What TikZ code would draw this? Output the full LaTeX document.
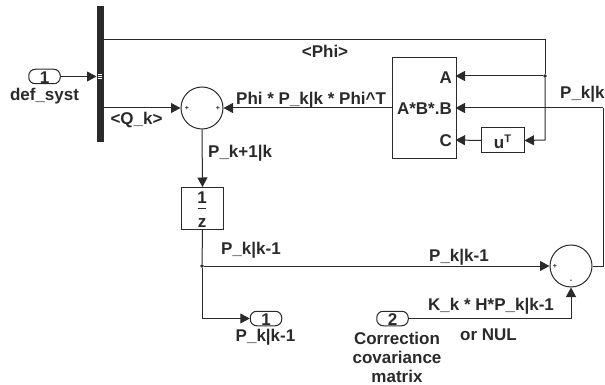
\documentclass[tikz,border=0pt]{standalone}
\usepackage{fontspec}
\setmainfont{Liberation Sans}
\usetikzlibrary{arrows.meta}
\definecolor{ink}{HTML}{2A2A2A}
\tikzset{
  x=1pt,y=-1pt,
  every node/.style={text=ink,font=\fontsize{17}{19}\selectfont\bfseries,inner sep=0pt},
  wire/.style={draw=ink,line width=1pt},
  flow/.style={wire,-{Triangle[length=9.5pt,width=10pt]}},
  blockbox/.style={draw=ink,line width=1pt,fill=white,minimum width=0pt,anchor=north west,rectangle},
  sumnode/.style={draw=ink,line width=1pt,circle,minimum size=42pt,fill=white},
  port/.style={draw=ink,line width=1pt,rounded corners=6.5pt,minimum width=31.5pt,minimum height=14.5pt,fill=white},
  tick/.style={font=\fontsize{7}{7}\selectfont\bfseries},
  dot/.style={circle,fill=ink,minimum size=3.6pt,draw=none},
}
\begin{document}
\begin{tikzpicture}
\useasboundingbox (0,0) rectangle (605,385);
% bus
\node[fill=ink,minimum width=7pt,minimum height=136pt,anchor=north west] (bus) at (96.5,6) {};
\coordinate (busphi) at (103.5,40);
\coordinate (busq) at (103.5,108);
\coordinate (busin) at (96.5,76.5);
\foreach \yy in {74.5,76.5,78.5} \draw[white,line width=.7pt] (98,\yy) -- (102,\yy);
% blocks
\node[port] (in1) at (44.5,76.5) {};
\node at (44.5,78) {1};
\node[sumnode] (sum1) at (202,108) {};
\node[blockbox,minimum width=63.5pt,minimum height=101pt] (prod) at (392,57.5) {};
\node[blockbox,minimum width=42.5pt,minimum height=25pt] (ut) at (481,127.5) {};
\node at (502.5,142) {u\raisebox{6pt}{\fontsize{11}{11}\selectfont T}};
\node[blockbox,minimum width=42pt,minimum height=42pt] (delay) at (181,187) {};
\node[sumnode] (sum2) at (571,266) {};
\node[port] (out1) at (266,318.5) {};
\node at (266,320) {1};
\node[port] (in2) at (392.5,318.5) {};
\node at (392.5,320) {2};
% coordinates for routing
\coordinate (prodA) at (455.5,76);
\coordinate (prodB) at (455.5,108);
\coordinate (prodC) at (455.5,140);
\coordinate (phic) at (545,40);
\node[dot] (j1) at (545,76) {};
\node[dot] (j2) at (202,266) {};
\coordinate (fb) at (603,266);
\coordinate (fbt) at (603,108);
% wires
\draw[flow] (in1.east) -- (busin);
\draw[wire] (busphi) -- (phic) -- (j1);
\draw[flow] (j1) -- (545,140) -- (ut.east);
\draw[flow] (j1) -- (prodA);
\draw[flow] (busq) -- (sum1.west);
\draw[flow] (prod.west |- sum1.east) -- (sum1.east);
\draw[flow] (sum1.south) -- (delay.north);
\draw[flow] (ut.west) -- (prodC);
\draw[wire] (delay.south) -- (j2);
\draw[flow] (j2) -- (sum2.west);
\draw[flow] (j2) |- (out1.west);
\draw[flow] (in2.east) -| (sum2.south);
\draw[wire] (sum2.east) -- (fb) -- (fbt);
\draw[flow] (fbt) -- (prodB);
% block texts
\node[anchor=east] at (452,78) {A};
\node[anchor=east] at (452,109) {A*B*.B};
\node[anchor=east] at (452,141) {C};
\node at (202,198) {1};
\draw[ink,line width=.9pt] (198,208) -- (206,208);
\node at (202,223) {z};
\node[tick] at (187,108.5) {+};
\node[tick] at (218,108.5) {+};
\node[tick] at (555,266) {+};
\node[tick] at (571,281) {-};
% labels
\node at (44.5,96.5) {def\_syst};
\node at (136.5,120) {<Q\_k>};
\node at (325,51) {<Phi>};
\node[anchor=west] at (236,100) {Phi * P\_k|k * Phi\textasciicircum T};
\node[anchor=west] at (208,153.5) {P\_k+1|k};
\node[anchor=west] at (560,94) {P\_k|k};
\node[anchor=west] at (221,250) {P\_k|k-1};
\node[anchor=west] at (429,257) {P\_k|k-1};
\node at (265.5,337) {P\_k|k-1};
\node[anchor=west] at (428,306) {K\_k * H*P\_k|k-1};
\node[anchor=west] at (460,335) {or NUL};
\node[align=center,anchor=north] at (397,331.5) {Correction\\covariance\\matrix};
\end{tikzpicture}
\end{document}
